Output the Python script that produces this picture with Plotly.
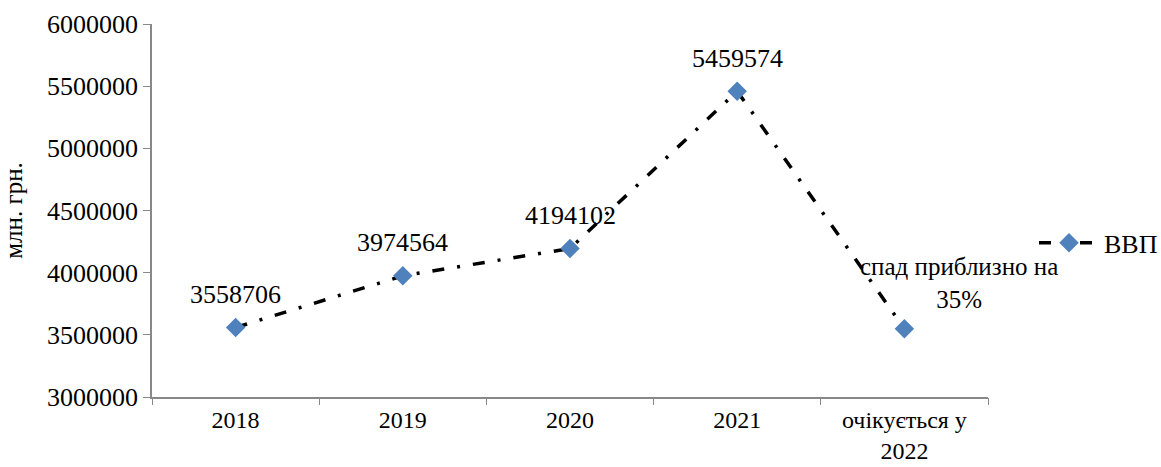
import plotly.graph_objects as go

categories = ["2018", "2019", "2020", "2021", "очікується у<br>2022"]
gdp_values = [3558706, 3974564, 4194102, 5459574, 3548723]
point_labels = ["3558706", "3974564", "4194102", "5459574", "спад приблизно на<br>35%"]
series_name = "ВВП"
y_title = "млн. грн."
y_ticks = [3000000, 3500000, 4000000, 4500000, 5000000, 5500000, 6000000]

FONT = "Liberation Serif, Times New Roman, serif"
fig = go.Figure()
fig.add_trace(go.Scatter(
    x=list(range(len(categories))), y=gdp_values, name=series_name, mode="lines+markers",
    line=dict(color="black", width=3.5, dash="12px,13px,3px,13px"),
    marker=dict(symbol="diamond", size=15, color="#4F81BD"),
))

for i, (v, t) in enumerate(zip(gdp_values, point_labels)):
    if i < len(categories) - 1:
        fig.add_annotation(x=i, y=v, text=t, showarrow=False, yshift=33,
                           font=dict(family=FONT, size=26, color="black"))
    else:
        fig.add_annotation(x=i, y=v, text=t, showarrow=False, xshift=55, yshift=46,
                           font=dict(family=FONT, size=25, color="black"))

fig.update_layout(
    width=1161, height=467,
    margin=dict(l=152, r=173, t=24, b=70, autoexpand=False),
    paper_bgcolor="white", plot_bgcolor="white",
    font=dict(family=FONT, size=26, color="black"),
    showlegend=True,
    legend=dict(x=1.055, y=0.413, xanchor="left", yanchor="middle", itemwidth=60,
                font=dict(family=FONT, size=26), bgcolor="rgba(0,0,0,0)"),
    xaxis=dict(range=[-0.5, 4.5], tickvals=list(range(len(categories))), ticktext=categories,
               showline=True, linecolor="#888888", automargin=False,
               linewidth=1.5, ticks="", showgrid=False, zeroline=False, tickfont=dict(size=24)),
    xaxis2=dict(overlaying="x", range=[-0.5, 4.5], tickvals=[i - 0.5 for i in range(len(categories) + 1)],
                showticklabels=False, ticks="outside", ticklen=7, tickcolor="#888888",
                showline=False, showgrid=False, zeroline=False, side="bottom", anchor="y",
                automargin=False),
    yaxis=dict(range=[3000000, 6000000], tickvals=y_ticks, ticktext=[str(v) for v in y_ticks],
               showline=True, linecolor="#888888", linewidth=1.5, ticks="outside",
               ticklen=7, tickcolor="#888888", showgrid=False, zeroline=False,
               tickfont=dict(size=26), automargin=False,
               title=dict(text=y_title, font=dict(size=25), standoff=20)),
)
fig.add_trace(go.Scatter(x=[None], y=[None], xaxis="x2", showlegend=False, hoverinfo="skip"))
fig.write_html("out.html", config={"displayModeBar": False},
               post_script="document.body.style.margin='0px';")
